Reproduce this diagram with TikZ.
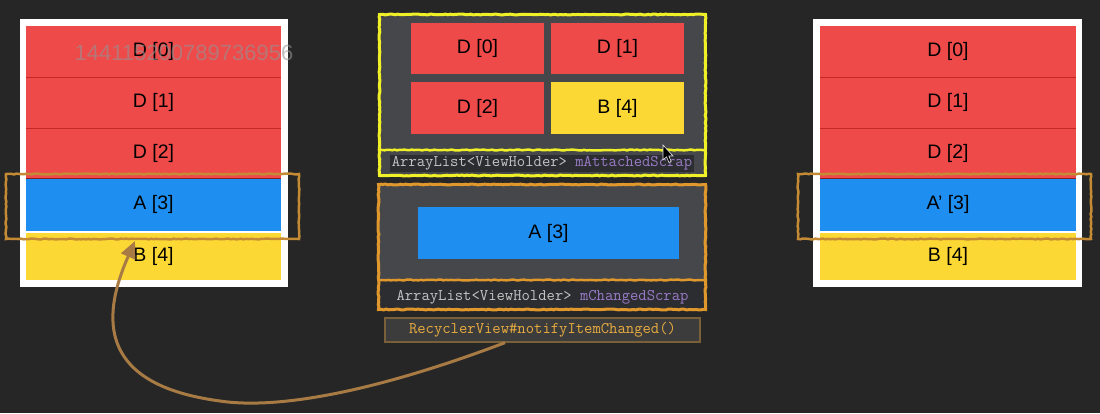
\documentclass[tikz,border=0pt]{standalone}
\usepackage{fontspec}
\setmainfont{Liberation Sans}
\usetikzlibrary{arrows.meta,decorations.pathmorphing}
\definecolor{bg}{HTML}{262626}
\definecolor{cred}{HTML}{EF4A4A}
\definecolor{cblue}{HTML}{1E8FF0}
\definecolor{cyel}{HTML}{FCD835}
\definecolor{pgrey}{HTML}{45474B}
\definecolor{stripc}{HTML}{2C2D31}
\definecolor{ybord}{HTML}{F0F028}
\definecolor{obord}{HTML}{E0982C}
\definecolor{hlc}{HTML}{C48A34}
\definecolor{arrc}{HTML}{A87B45}
\definecolor{tgrey}{HTML}{C4C4C4}
\definecolor{tpurp}{HTML}{9A7BC6}
\definecolor{torange}{HTML}{E8AC40}
\definecolor{sepc}{HTML}{C42828}
\definecolor{rvbord}{HTML}{7A6038}
\begin{document}
\begin{tikzpicture}[x=1pt,y=-1pt,
  cell/.style={fill=#1, inner sep=0pt, font=\fontsize{19.5}{22}\selectfont, text=black},
  lcell/.style={cell=#1, minimum width=255pt},
  rcell/.style={cell=#1, minimum width=256pt},
  mcell/.style={cell=#1, minimum width=133pt, minimum height=51pt},
  code/.style={inner sep=1.5pt, font=\ttfamily\fontsize{16.2}{18}\selectfont},
  sketch/.style={decorate, decoration={random steps, segment length=2.5pt, amplitude=0.45pt}},
  hlbox/.style={draw=hlc, line width=2.5pt, sketch},
  arrowline/.style={draw=arrc, line width=3pt, -{Triangle[length=17pt,width=15pt]}}
]
\useasboundingbox (0,0) rectangle (1100,413);
\fill[bg] (0,0) rectangle (1100,413);

% ---------- left panel ----------
\node[fill=white, minimum width=268pt, minimum height=268pt, inner sep=0pt] (lframe) at (154,153) {};
\node[lcell=cred, minimum height=51pt] (l0) at (153.5,51.5) {D [0]};
\node[lcell=cred, minimum height=51pt] (l1) at (153.5,102.5) {D [1]};
\node[lcell=cred, minimum height=50pt] (l2) at (153.5,153) {D [2]};
\node[lcell=cblue, minimum height=53pt] (l3) at (153.5,204.5) {A [3]};
\node[lcell=cyel, minimum height=47pt] (l4) at (153.5,256.5) {B [4]};
\draw[sepc, line width=0.8pt] (l0.south west) -- (l0.south east);
\draw[sepc, line width=0.8pt] (l1.south west) -- (l1.south east);
\draw[sepc!70!black, line width=0.5pt] (l2.south west) -- (l2.south east);

% ---------- right panel ----------
\node[fill=white, minimum width=269pt, minimum height=268pt, inner sep=0pt] (rframe) at (947.5,153) {};
\node[rcell=cred, minimum height=51pt] (r0) at (948,51.5) {D [0]};
\node[rcell=cred, minimum height=51pt] (r1) at (948,102.5) {D [1]};
\node[rcell=cred, minimum height=50pt] (r2) at (948,153) {D [2]};
\node[rcell=cblue, minimum height=53pt] (r3) at (948,204.5) {A’ [3]};
\node[rcell=cyel, minimum height=47pt] (r4) at (948,256.5) {B [4]};
\draw[sepc, line width=0.8pt] (r0.south west) -- (r0.south east);
\draw[sepc, line width=0.8pt] (r1.south west) -- (r1.south east);
\draw[sepc!70!black, line width=0.5pt] (r2.south west) -- (r2.south east);

% ---------- highlight boxes ----------
\draw[hlbox] (6,174) rectangle (299,239);
\draw[hlbox] (798,174) rectangle (1091,239);

% ---------- middle: attached scrap ----------
\fill[pgrey] (378,13) rectangle (707,177);
\node[mcell=cred] (m0) at (477.5,48.5) {D [0]};
\node[mcell=cred] (m1) at (617.5,48.5) {D [1]};
\node[mcell=cred, minimum height=52pt] (m2) at (477.5,108) {D [2]};
\node[mcell=cyel, minimum height=52pt] (m4) at (617.5,108) {B [4]};
\node[code, fill=stripc] (attl) at (542,163.5) {\textcolor{tgrey}{ArrayList<ViewHolder>} \textcolor{tpurp}{mAttachedScrap}};
\draw[ybord, line width=3pt, sketch] (379.5,14.5) rectangle (705.5,175.5);
\draw[ybord, line width=2.5pt, sketch] (379.5,150) -- (705.5,150);

% ---------- middle: changed scrap ----------
\fill[pgrey] (377,183) rectangle (707,280);
\fill[stripc] (377,280) rectangle (707,311);
\node[cell=cblue, minimum width=261pt, minimum height=52pt] (ma) at (548.5,233) {A [3]};
\node[code] (chl) at (542.5,297.5) {\textcolor{tgrey}{ArrayList<ViewHolder>} \textcolor{tpurp}{mChangedScrap}};
\draw[obord, line width=3pt, sketch] (378.5,184.5) rectangle (705.5,309.5);
\draw[obord, line width=2.5pt, sketch] (378.5,280) -- (705.5,280);

% ---------- notifyItemChanged ----------
\node[code, draw=rvbord, fill=bg!90!white, line width=1.3pt, minimum width=315pt, minimum height=24pt, text=torange] (rv) at (542.5,330) {RecyclerView\#notifyItemChanged()};

% ---------- watermark ----------
\node[inner sep=0pt, font=\fontsize{22}{24}\selectfont, text=gray!85!white, text opacity=0.6] (wm) at (184,53) {144115200789736956};

% ---------- arrow ----------
\coordinate (arrE) at (135,241);
\draw[arrowline] ([xshift=-37.5pt]rv.south) .. controls (380,390) and (280,410) .. (220,401)
  .. controls (100,385) and (100,320) .. (arrE);

% ---------- cursor ----------
\filldraw[fill=black, draw=white!80!gray, line width=0.6pt]
  (663,145) -- (663,160) -- (666.5,156.8) -- (669,162.5) -- (671.2,161.5) -- (668.8,156) -- (673,156) -- cycle;
\end{tikzpicture}
\end{document}
